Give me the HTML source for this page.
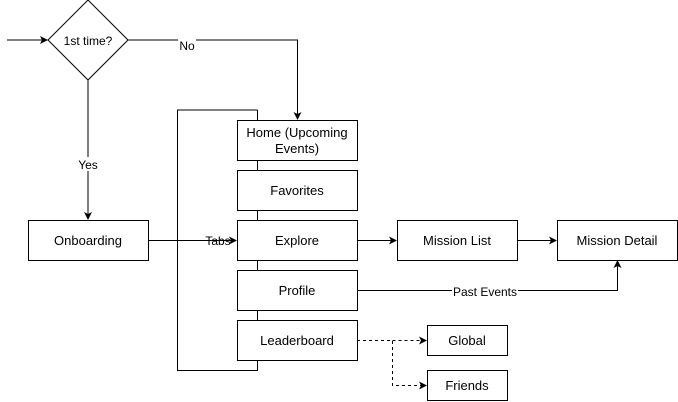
<!DOCTYPE html>
<html><head><style>body{margin:0;background:#fff}svg{display:block}text{font-family:"Liberation Sans",sans-serif;font-size:13px;fill:#000}</style></head><body>
<svg width="678" height="402" viewBox="0 0 678 402">
<defs><marker id="a" markerWidth="8" markerHeight="8" refX="7" refY="4" orient="auto" markerUnits="userSpaceOnUse"><path d="M0,0 L8,4 L0,8 L2,4z" fill="#000"/></marker></defs>
<g fill="none" stroke="#000" stroke-width="1">
<path d="M88,0 L128,40 L88,80 L48,40z" fill="#fff"/>
<path d="M7,40 H47" marker-end="url(#a)"/>
<path d="M128,40 H297.5 V119" marker-end="url(#a)"/>
<path d="M88,80 V219" marker-end="url(#a)"/>
<path d="M257.5,110 H177.5 V370.5 H257.5 V360"/>
<path d="M257.5,110 V120 M257.5,160 V170 M257.5,210 V220 M257.5,260 V270 M257.5,310 V320"/>
<path d="M148,240.5 H236" marker-end="url(#a)"/>
<path d="M357,240.5 H396" marker-end="url(#a)"/>
<path d="M517,240.5 H556" marker-end="url(#a)"/>
<path d="M357,290.5 H617.5 V261" marker-end="url(#a)"/>
<path d="M357,340.5 H392.5 V385.5 H426" stroke-dasharray="3,3" marker-end="url(#a)"/>
<path d="M392.5,340.5 H426" stroke-dasharray="3,3" marker-end="url(#a)"/>
<rect x="237.5" y="120.5" width="120" height="40" fill="#fff"/>
<rect x="237.5" y="170.5" width="120" height="40" fill="#fff"/>
<rect x="237.5" y="220.5" width="120" height="40" fill="#fff"/>
<rect x="237.5" y="270.5" width="120" height="40" fill="#fff"/>
<rect x="237.5" y="320.5" width="120" height="40" fill="#fff"/>
<rect x="28.5" y="220.5" width="120" height="40" fill="#fff"/>
<rect x="397.5" y="220.5" width="120" height="40" fill="#fff"/>
<rect x="557.5" y="220.5" width="120" height="40" fill="#fff"/>
<rect x="427.5" y="325.5" width="80" height="30" fill="#fff"/>
<rect x="427.5" y="370.5" width="80" height="30" fill="#fff"/>
</g>
<g text-anchor="middle">
<text x="88" y="45" style="font-size:12px">1st time?</text>
<rect x="178" y="38" width="18" height="14" fill="#fff"/><text x="187" y="50" style="font-size:12px">No</text>
<rect x="76" y="157" width="24" height="14" fill="#fff"/><text x="88" y="169" style="font-size:12px">Yes</text>
<text x="218" y="245" style="font-size:12px">Tabs</text>
<rect x="452" y="284" width="66" height="14" fill="#fff"/><text x="485" y="296" style="font-size:12px">Past Events</text>
<text x="297" y="137">Home (Upcoming</text><text x="297" y="153">Events)</text>
<text x="297" y="195">Favorites</text>
<text x="297" y="245">Explore</text>
<text x="297" y="295">Profile</text>
<text x="297" y="345">Leaderboard</text>
<text x="88" y="245">Onboarding</text>
<text x="457" y="245">Mission List</text>
<text x="617" y="245">Mission Detail</text>
<text x="467" y="345">Global</text>
<text x="467" y="390">Friends</text>
</g>
</svg>
</body></html>
